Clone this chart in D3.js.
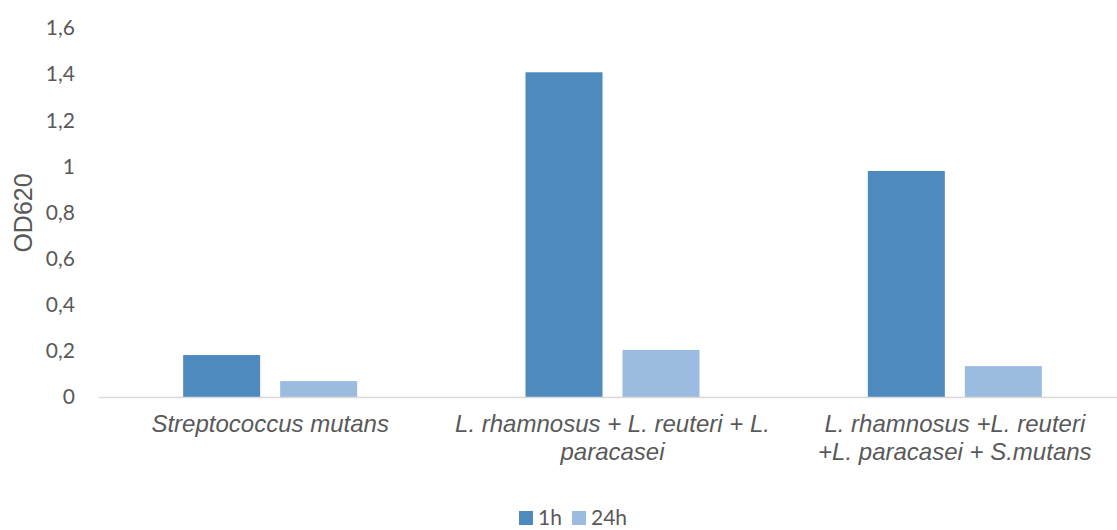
<!DOCTYPE html>
<html>
<head>
<meta charset="utf-8">
<script src="https://cdn.jsdelivr.net/npm/d3@7"></script>
<style>
  body { margin: 0; background: #fff; }
  svg { display: block; }
  .tick-label { font-family: Lato, "Open Sans", sans-serif; font-size: 21px; fill: #595959; }
  .cat-label { font-family: "Liberation Sans", Arial, sans-serif; font-size: 24px; font-style: italic; fill: #595959; }
  .axis-title { font-family: "Liberation Sans", Arial, sans-serif; font-size: 25px; fill: #595959; }
  .legend-label { font-family: Lato, "Open Sans", sans-serif; font-size: 21px; fill: #595959; }
</style>
</head>
<body>
<div id="chart"></div>
<script>
// data
var categories = ["Streptococcus mutans", "L. rhamnosus + L. reuteri + L. paracasei", "L. rhamnosus +L. reuteri +L. paracasei + S.mutans"];
var categoryLines = [
  ["Streptococcus mutans"],
  ["L. rhamnosus + L. reuteri + L.", "paracasei"],
  ["L. rhamnosus +L. reuteri", "+L. paracasei + S.mutans"]
];
var series = ["1h", "24h"];
var values1h = [0.182, 1.408, 0.98];
var values24h = [0.069, 0.204, 0.134];
var yTicks = [0, 0.2, 0.4, 0.6, 0.8, 1, 1.2, 1.4, 1.6];
var colors = ["#4f8abe", "#9cbbe0"];

var width = 1117, height = 530;

var svg = d3.select("#chart").append("svg")
    .attr("width", width)
    .attr("height", height);

var data = categories.map(function(c, i) {
  return { cat: c, vals: [values1h[i], values24h[i]] };
});

// scales
var x0 = d3.scaleBand().domain(categories).range([99, 1126]).padding(0);
var half = 87;
var x1 = d3.scaleBand().domain(series)
    .range([x0.bandwidth() / 2 - half, x0.bandwidth() / 2 + half])
    .paddingInner(0.2062).paddingOuter(0);
var y = d3.scaleLinear().domain([0, 1.6]).range([397, 28]);

var fmt = function(d) { return String(d).replace(".", ","); };

// y tick labels (no gridlines in the original)
svg.append("g")
    .selectAll("text")
    .data(yTicks)
    .enter().append("text")
    .attr("class", "tick-label")
    .attr("x", 75)
    .attr("y", function(d) { return y(d); })
    .attr("dy", "0.35em")
    .attr("text-anchor", "end")
    .text(fmt);

// bars
var groups = svg.append("g")
    .selectAll("g")
    .data(data)
    .enter().append("g")
    .attr("transform", function(d) { return "translate(" + x0(d.cat) + ",0)"; });

groups.selectAll("rect")
    .data(function(d) { return d.vals.map(function(v, i) { return { s: series[i], v: v }; }); })
    .enter().append("rect")
    .attr("x", function(d) { return x1(d.s); })
    .attr("y", function(d) { return y(d.v); })
    .attr("width", x1.bandwidth())
    .attr("height", function(d) { return y(0) - y(d.v); })
    .attr("fill", function(d, i) { return colors[i]; });

// x axis line
svg.append("line")
    .attr("x1", 99).attr("x2", width)
    .attr("y1", y(0) + 0.5).attr("y2", y(0) + 0.5)
    .attr("stroke", "#d9d9d9")
    .attr("stroke-width", 1.5);

// category labels
var labels = svg.append("g")
    .selectAll("text")
    .data(categories)
    .enter().append("text")
    .attr("class", "cat-label")
    .attr("text-anchor", "middle")
    .attr("x", function(d) { return x0(d) + x0.bandwidth() / 2; })
    .attr("y", 432);

labels.each(function(d, i) {
  var t = d3.select(this);
  categoryLines[i].forEach(function(line, j) {
    t.append("tspan")
      .attr("x", x0(d) + x0.bandwidth() / 2)
      .attr("dy", j === 0 ? 0 : 28)
      .text(line);
  });
});

// y axis title
svg.append("text")
    .attr("class", "axis-title")
    .attr("transform", "rotate(-90)")
    .attr("x", -213)
    .attr("y", 32)
    .attr("text-anchor", "middle")
    .text("OD620");

// legend
var legend = svg.append("g").attr("transform", "translate(519,511)");
var legendX = [0, 53];
series.forEach(function(s, i) {
  var g = legend.append("g").attr("transform", "translate(" + legendX[i] + ",0)");
  g.append("rect")
    .attr("width", 14).attr("height", 14)
    .attr("fill", colors[i]);
  g.append("text")
    .attr("class", "legend-label")
    .attr("x", 19)
    .attr("y", 7)
    .attr("dy", "0.35em")
    .text(s);
});
</script>
</body>
</html>
